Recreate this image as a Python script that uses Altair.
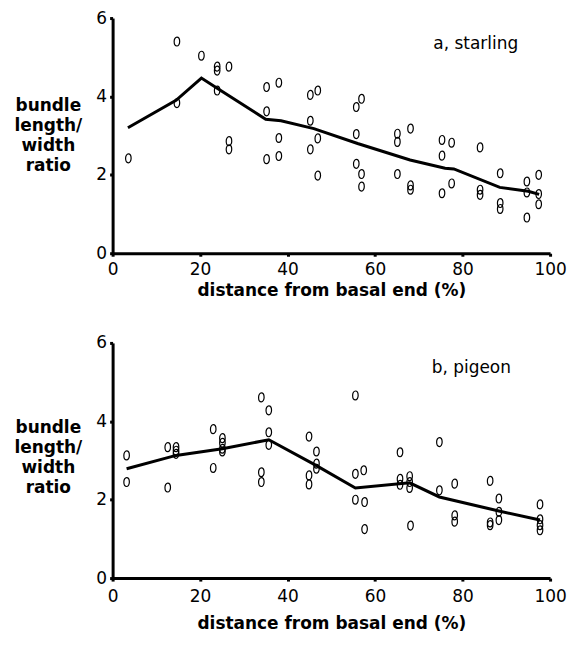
import altair as alt
import pandas as pd

# ---- data ----
starling_x = [3.6, 14.7, 14.7, 20.3, 23.9, 23.9, 23.9, 26.6, 26.6, 26.6,
              35.2, 38.0, 35.2, 35.2, 38.0, 38.0, 45.2, 46.9, 45.2, 46.9,
              45.2, 46.9, 55.7, 56.9, 55.7, 55.7, 56.9, 56.9, 65.1, 65.1,
              68.1, 65.1, 68.1, 68.1, 75.3, 77.5, 75.3, 75.3, 77.5, 84.0,
              84.0, 84.0, 88.6, 88.6, 88.6, 94.7, 94.7, 94.7, 97.4, 97.4, 97.4]
starling_y = [2.42, 5.40, 3.83, 5.04, 4.76, 4.66, 4.15, 4.76, 2.86, 2.65,
              4.24, 4.35, 3.62, 2.40, 2.94, 2.48, 4.04, 4.15, 3.38, 2.93,
              2.65, 1.98, 3.73, 3.94, 3.04, 2.28, 2.02, 1.70, 3.05, 2.84,
              3.18, 2.02, 1.73, 1.62, 2.89, 2.82, 2.49, 1.53, 1.78, 2.70,
              1.62, 1.49, 2.04, 1.28, 1.13, 1.83, 1.55, 0.91, 2.00, 1.51, 1.25]
starling_line_x = [3.5, 14.5, 20.3, 24, 35, 38.5, 46, 56, 68, 76, 78, 88.5, 95, 97.5]
starling_line_y = [3.2, 3.9, 4.47, 4.2, 3.42, 3.38, 3.18, 2.8, 2.38, 2.17, 2.15, 1.68, 1.58, 1.5]

pigeon_x = [3.2, 3.2, 12.6, 12.6, 14.5, 14.5, 14.5, 23.0, 23.0, 25.1,
            25.1, 25.1, 25.1, 34.0, 35.7, 35.7, 35.7, 34.0, 34.0, 44.9,
            46.6, 46.6, 46.6, 44.9, 44.9, 55.5, 55.5, 57.4, 55.5, 57.6,
            57.6, 65.7, 65.7, 65.7, 67.9, 67.9, 67.9, 68.1, 74.7, 74.7,
            78.2, 78.2, 78.2, 86.3, 86.3, 86.3, 88.3, 88.3, 88.3, 97.7,
            97.7, 97.7, 97.7]
pigeon_y = [3.13, 2.45, 3.34, 2.31, 3.34, 3.25, 3.17, 3.80, 2.81, 3.57,
            3.45, 3.30, 3.23, 4.61, 4.28, 3.72, 3.40, 2.70, 2.45, 3.61,
            3.23, 2.92, 2.79, 2.62, 2.39, 4.66, 2.66, 2.75, 2.00, 1.94,
            1.25, 3.21, 2.53, 2.38, 2.60, 2.45, 2.30, 1.34, 3.47, 2.24,
            2.41, 1.60, 1.44, 2.48, 1.42, 1.35, 2.03, 1.69, 1.48, 1.88,
            1.50, 1.35, 1.22]
pigeon_line_x = [3.2, 14.5, 25.1, 35.7, 46.6, 55.5, 67.9, 74.7, 88.3, 97.7]
pigeon_line_y = [2.79, 3.13, 3.30, 3.53, 2.87, 2.30, 2.43, 2.07, 1.71, 1.48]

x_ticks = [0, 20, 40, 60, 80, 100]
y_ticks = [0, 2, 4, 6]
x_title = "distance from basal end (%)"
y_title = ["bundle", "length/", "width", "ratio"]
panel_labels = ["a, starling", "b, pigeon"]
label_pos_x = [83, 82]
label_pos_y = [5.33, 5.37]

FONT = "DejaVu Sans"
ELLIPSE = "M0,-1 A0.62,1 0 1,1 0,1 A0.62,1 0 1,1 0,-1 Z"


def panel(px, py, lx, ly, label, tx, ty, lab_pad, title_pad, ytitle_y):
    pts = pd.DataFrame({"x": px, "y": py})
    ln = pd.DataFrame({"x": lx, "y": ly})
    lab = pd.DataFrame({"x": [tx], "y": [ty], "t": [label]})
    xs = alt.Scale(domain=[0, 100], nice=False)
    ys = alt.Scale(domain=[0, 6], nice=False)
    xax = alt.Axis(values=x_ticks, title=x_title, grid=False,
                   labelFontSize=17, titleFontSize=17, titleFontWeight="bold",
                   labelFont=FONT, titleFont=FONT, labelColor="black", titleColor="black",
                   domainColor="black", domainWidth=3, tickColor="black",
                   tickWidth=3, tickSize=3, labelPadding=lab_pad, titlePadding=title_pad,
                   labelFlush=False)
    yax = alt.Axis(values=y_ticks, title=y_title, grid=False,
                   labelFontSize=17, titleFontSize=17, titleFontWeight="bold",
                   labelFont=FONT, titleFont=FONT, labelColor="black", titleColor="black",
                   domainColor="black", domainWidth=3, tickColor="black",
                   tickWidth=3, tickSize=3, labelPadding=3,
                   titleAngle=0, titleAlign="center", titleBaseline="top",
                   titleX=-65, titleY=ytitle_y, titleLineHeight=20, labelFlush=False)
    points = alt.Chart(pts).mark_point(
        shape=ELLIPSE, size=80, filled=False, color="black", strokeWidth=1.2, opacity=1
    ).encode(x=alt.X("x:Q", scale=xs, axis=xax), y=alt.Y("y:Q", scale=ys, axis=yax))
    line = alt.Chart(ln).mark_line(color="black", strokeWidth=3).encode(
        x=alt.X("x:Q", scale=xs), y=alt.Y("y:Q", scale=ys))
    text = alt.Chart(lab).mark_text(font=FONT, fontSize=17, color="black").encode(
        x=alt.X("x:Q", scale=xs), y=alt.Y("y:Q", scale=ys), text="t:N")
    return alt.layer(line, points, text).properties(width=439, height=236)


top = panel(starling_x, starling_y, starling_line_x, starling_line_y,
            panel_labels[0], label_pos_x[0], label_pos_y[0], 5, 5, 80)
bottom = panel(pigeon_x, pigeon_y, pigeon_line_x, pigeon_line_y,
               panel_labels[1], label_pos_x[1], label_pos_y[1], 7, 12, 77)

chart = alt.vconcat(top, bottom, spacing=36).configure_view(stroke=None).properties(
    padding={"left": 13, "top": 8, "right": 5, "bottom": 5}, background="white")

chart.save("out.html", embed_options={"renderer": "svg", "actions": False})
